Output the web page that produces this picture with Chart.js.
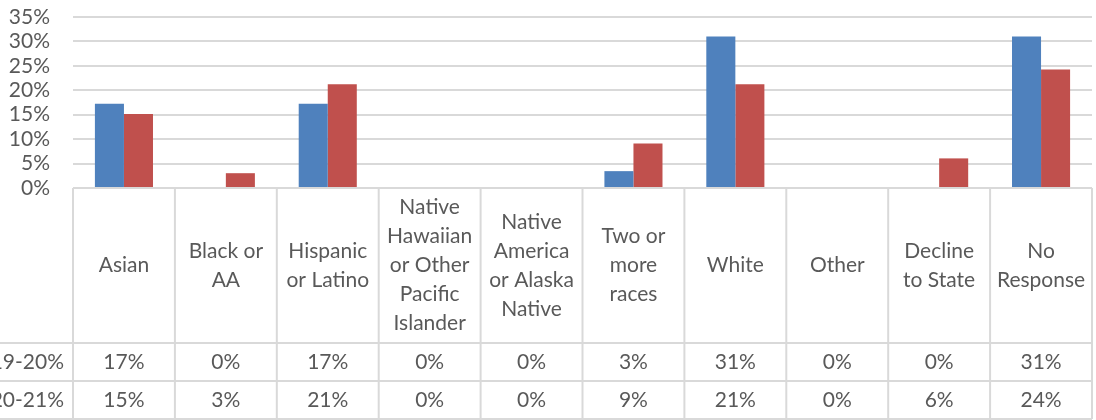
<!DOCTYPE html>
<html>
<head>
<meta charset="utf-8">
<script src="https://cdn.jsdelivr.net/npm/chart.js@4/dist/chart.umd.min.js"></script>
<style>
    html, body { margin: 0; padding: 0; background: #fff; }
    #wrap { width: 1096px; height: 420px; }
</style>
</head>
<body>
<div id="wrap"><canvas id="raza" width="1096" height="420"></canvas></div>
<script>
// Categorías (cada elemento es una lista de renglones de la celda)
const categorias = [
    ['Asian'],
    ['Black or', 'AA'],
    ['Hispanic', 'or Latino'],
    ['Native', 'Hawaiian', 'or Other', 'Pacific', 'Islander'],
    ['Native', 'America', 'or Alaska', 'Native'],
    ['Two or', 'more', 'races'],
    ['White'],
    ['Other'],
    ['Decline', 'to State'],
    ['No', 'Response']
];
const nombresSeries = ['2019-20%', '2020-21%'];
const valores1920 = [17.24, 0, 17.24, 0, 0, 3.45, 31.03, 0, 0, 31.03];
const valores2021 = [15.15, 3.03, 21.21, 0, 0, 9.09, 21.21, 0, 6.06, 24.24];
const ticksY = [0, 5, 10, 15, 20, 25, 30, 35];

const colores = ['#4f81bd', '#c0504d'];
const gris = '#d9d9d9';
const texto = '#595959';
const fuente = 'Lato, "Open Sans", sans-serif';

document.addEventListener('DOMContentLoaded', function () {
    const ctx = document.getElementById('raza').getContext('2d');

    // Tabla de datos debajo del área de barras
    const tablaDatos = {
        id: 'tablaDatos',
        afterDraw(chart) {
            const c = chart.ctx;
            const area = chart.chartArea;
            const n = categorias.length;
            const anchoCol = (area.right - area.left) / n;
            const top = area.bottom;
            const y1 = top + 155;
            const y2 = y1 + 38;
            const y3 = y2 + 38;
            const filas = [valores1920, valores2021];

            function linea(xa, ya, xb, yb) {
                c.beginPath();
                c.moveTo(xa, ya);
                c.lineTo(xb, yb);
                c.stroke();
            }

            c.save();
            c.strokeStyle = gris;
            c.lineWidth = 2;
            linea(area.left, top, area.right, top);
            linea(0, y1, area.right, y1);
            linea(0, y2, area.right, y2);
            linea(0, y3, area.right, y3);
            for (let i = 0; i <= n; i++) {
                const xv = area.left + i * anchoCol;
                linea(xv, top, xv, y3);
            }

            c.fillStyle = texto;
            c.font = '21px ' + fuente;
            c.textAlign = 'center';
            c.textBaseline = 'middle';
            const altoLinea = 29;
            const centroCat = (top + y1) / 2;
            categorias.forEach(function (lineas, i) {
                const xc = area.left + (i + 0.5) * anchoCol;
                const y0 = centroCat - (lineas.length - 1) * altoLinea / 2;
                lineas.forEach(function (t, j) {
                    c.fillText(t, xc, y0 + j * altoLinea);
                });
                filas.forEach(function (serie, k) {
                    const yc = (k === 0 ? (y1 + y2) / 2 : (y2 + y3) / 2);
                    c.fillText(Math.round(serie[i]) + '%', xc, yc);
                });
            });

            // nombres de las series, alineados a la derecha de la primera columna
            c.textAlign = 'right';
            nombresSeries.forEach(function (nombre, k) {
                const yc = (k === 0 ? (y1 + y2) / 2 : (y2 + y3) / 2);
                c.fillText(nombre, area.left - 9, yc);
            });
            c.restore();
        }
    };

    new Chart(ctx, {
        type: 'bar',
        data: {
            labels: categorias,
            datasets: [{
                label: nombresSeries[0],
                data: valores1920,
                backgroundColor: colores[0],
                categoryPercentage: 0.57,
                barPercentage: 1.0
            }, {
                label: nombresSeries[1],
                data: valores2021,
                backgroundColor: colores[1],
                categoryPercentage: 0.57,
                barPercentage: 1.0
            }]
        },
        options: {
            responsive: false,
            animation: false,
            layout: {
                padding: { left: 0, right: 4, top: 17, bottom: 232 }
            },
            plugins: {
                legend: { display: false },
                tooltip: { enabled: false }
            },
            scales: {
                x: {
                    display: false
                },
                y: {
                    min: ticksY[0],
                    max: ticksY[ticksY.length - 1],
                    afterBuildTicks: function (scale) {
                        scale.ticks = ticksY.map(function (v) { return { value: v }; });
                    },
                    afterFit: function (scale) {
                        // ancho fijo del eje y sin relleno extra arriba
                        scale.width = 73;
                        scale.paddingTop = 0;
                        scale.paddingBottom = 0;
                    },
                    border: { display: false },
                    grid: {
                        color: gris,
                        lineWidth: 2,
                        drawTicks: false
                    },
                    ticks: {
                        autoSkip: false,
                        padding: 23,
                        color: texto,
                        font: { family: fuente, size: 21 },
                        callback: function (v) { return v + '%'; }
                    }
                }
            }
        },
        plugins: [tablaDatos]
    });
});
</script>
</body>
</html>
